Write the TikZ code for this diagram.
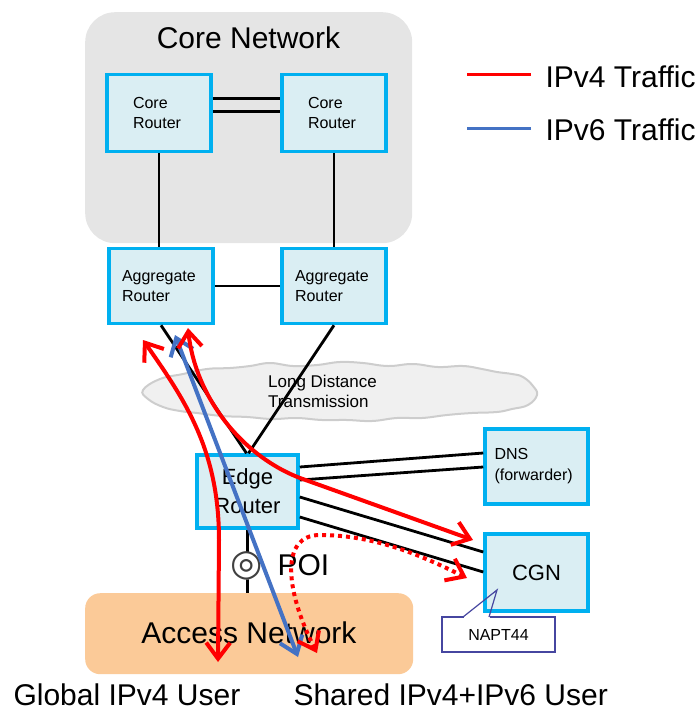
\documentclass[tikz,border=0pt]{standalone}
\usepackage{fontspec}
\setmainfont{Liberation Sans}
\newfontfamily\symfont{DejaVu Sans}
\usetikzlibrary{arrows.meta,calc}

\definecolor{boxfill}{RGB}{218,238,243}
\definecolor{boxline}{RGB}{0,176,240}
\definecolor{coregray}{RGB}{229,229,229}
\definecolor{accessfill}{RGB}{251,202,152}
\definecolor{vfour}{RGB}{255,0,0}
\definecolor{vsix}{RGB}{68,114,196}
\definecolor{cloudfill}{RGB}{240,240,240}
\definecolor{cloudline}{RGB}{205,205,205}
\definecolor{calloutline}{RGB}{70,70,160}

\begin{document}
\begin{tikzpicture}[x=1pt,y=-1pt,
  router/.style={draw=boxline, fill=boxfill, line width=3.5pt, inner sep=0pt},
  small/.style={font=\fontsize{16}{20}\selectfont},
  mid/.style={font=\fontsize{22}{29}\selectfont},
  big/.style={font=\fontsize{30}{36}\selectfont},
  link/.style={line width=2.8pt, black},
  barbs/.style={{Straight Barb[length=16pt,width=24pt]}-{Straight Barb[length=16pt,width=24pt]}},
  vfourflow/.style={vfour, line width=4pt, barbs},
  vsixflow/.style={vsix, line width=4pt, barbs},
]
\useasboundingbox (0,0) rectangle (697,710);

% network areas
\node[fill=coregray, rounded corners=30pt, minimum width=327pt, minimum height=231pt,
      anchor=north west, inner sep=0pt] (core) at (85,12) {};
\node[big, anchor=base] (corelabel) at (248.5,48) {Core Network};

% long distance transmission cloud
\draw[fill=cloudfill, draw=cloudline, line width=2pt]
  plot[smooth cycle, tension=0.7] coordinates {
    (143,390) (160,379) (183,374) (207,369) (230,368) (250,366) (270,363)
    (293,366) (317,365) (340,362) (363,363) (388,366) (413,364) (438,367)
    (463,366) (482,369) (497,372) (512,374) (523,377) (533,386) (537,395)
    (528,405) (512,409) (497,412) (472,413) (447,415) (422,418) (397,418)
    (372,421) (347,420) (322,420) (297,418) (272,419) (247,417) (222,416)
    (197,413) (180,411) (163,407) (148,399)};
\node[font=\fontsize{17}{20}\selectfont, align=left, anchor=west, inner sep=0pt]
      (ldt) at (268,391) {Long Distance\\Transmission};

\node[fill=accessfill, rounded corners=15pt, minimum width=328pt, minimum height=81pt,
      anchor=north west, inner sep=0pt] (access) at (85,593) {};

% routers and servers
\node[router, small, minimum width=104pt, minimum height=77pt, text width=52pt, align=left]
      (cr1) at (159,113) {Core\\Router};
\node[router, small, minimum width=104pt, minimum height=77pt, text width=52pt, align=left]
      (cr2) at (334,113) {Core\\Router};
\node[router, small, minimum width=104pt, minimum height=75pt, text width=78pt, align=left]
      (ag1) at (161,286) {Aggregate\\Router};
\node[router, small, minimum width=104pt, minimum height=75pt, text width=78pt, align=left]
      (ag2) at (334,286) {Aggregate\\Router};
\node[router, mid, minimum width=101pt, minimum height=73pt, align=center]
      (edge) at (247.5,491.5) {Edge\\Router};
\node[router, font=\fontsize{16}{21}\selectfont, minimum width=103pt, minimum height=75pt,
      text width=84pt, align=left] (dns) at (536.5,466.5) {DNS\\(forwarder)};
\node[router, mid, minimum width=103pt, minimum height=77pt] (cgn) at (536.5,572.5) {CGN};

% links
\draw[link] ([yshift=-26pt]cr1.north east) -- ([yshift=-26pt]cr2.north west);
\draw[link] ([yshift=-39pt]cr1.north east) -- ([yshift=-39pt]cr2.north west);
\draw[link] (cr1.south) -- (cr1.south |- ag1.north);
\draw[link] (cr2.south) -- (cr2.south |- ag2.north);
\draw[link] (ag1.east) -- (ag2.west);
\draw[link] (ag1.south) -- ([xshift=-1pt]edge.north);
\draw[link] (ag2.south) -- ([xshift=1pt]edge.north);
\draw[link] ([yshift=-13.75pt]edge.north east) -- ([yshift=-25.75pt]dns.north west);
\draw[link] ([yshift=-26.75pt]edge.north east) -- ([yshift=-39.75pt]dns.north west);
\draw[link] ([yshift=-43.75pt]edge.north east) -- ([yshift=-19.75pt]cgn.north west);
\draw[link] ([yshift=-63.75pt]edge.north east) -- ([yshift=-39.75pt]cgn.north west);
\draw[link] (edge.south) -- (edge.south |- access.north);

% point of interconnection
\coordinate (poi) at (247,566);
\fill[white] (poi) circle[radius=13.5pt];
\node[font=\symfont\fontsize{37}{40}\selectfont, text=black!75, inner sep=0pt] (poisym) at (poi) {◎};
\node[big, anchor=base west] (poilabel) at (274,575) {POI};

\node[big, anchor=base] (accesslabel) at (249,643) {Access Network};

% NAPT44 callout
\node[draw=calloutline, fill=white, line width=1.2pt, minimum width=113pt, minimum height=35pt,
      font=\fontsize{16}{20}\selectfont] (napt) at (498.5,634.5) {NAPT44};
\coordinate (nptip) at (497,590);
\fill[white] ([xshift=-35pt,yshift=1.5pt]napt.north) rectangle ([xshift=-9pt,yshift=-1.2pt]napt.north);
\draw[calloutline, line width=1.2pt, line join=miter]
      ([xshift=-35.5pt,yshift=-0.6pt]napt.north) -- (nptip) -- ([xshift=-9.5pt,yshift=-0.6pt]napt.north);

% traffic flows
\coordinate (gtop) at (143,340);
\coordinate (gbot) at (218,662);
\draw[vfourflow] (gtop) .. controls (185,400) and (219,450) .. (219,540) -- (gbot);

\coordinate (stop) at (175,335);
\coordinate (sbot) at (298,657);
\draw[vsixflow] (stop) -- (sbot);

\coordinate (ntop) at (188,328);
\coordinate (ncgn) at (473,540);
\draw[vfourflow] (ntop) .. controls (195,395) and (240,455) .. (300,478) -- (ncgn);

\coordinate (dbot) at (317,653);
\coordinate (dcgn) at (467,578);
\draw[vfourflow, dash pattern=on 4pt off 4pt]
      (dbot) .. controls (285,590) and (280,535) .. (320,535)
             .. controls (380,535) and (430,560) .. (dcgn);

% legend
\node[big, anchor=base west] (leg4) at (542,87) {IPv4 Traffic};
\node[big, anchor=base west] (leg6) at (542,140) {IPv6 Traffic};
\draw[vfour, line width=3pt] ([xshift=-11pt]leg4.west |- 0,74) -- ++(-64,0);
\draw[vsix, line width=3pt] ([xshift=-11pt]leg6.west |- 0,128) -- ++(-64,0);

% users
\node[big, anchor=base west] (guser) at (10,705) {Global IPv4 User};
\node[big, anchor=base west] (suser) at (290,705) {Shared IPv4+IPv6 User};
\end{tikzpicture}
\end{document}
